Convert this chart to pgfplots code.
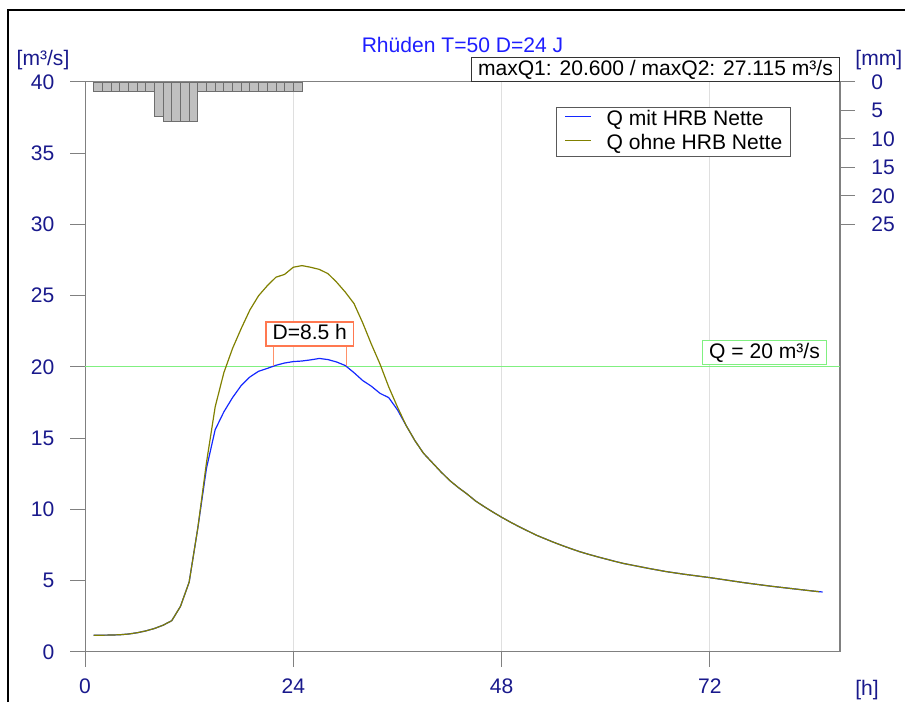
\documentclass[border=0pt]{standalone}
\usepackage{pgfplots}
\pgfplotsset{compat=1.18}
\usepackage{fontspec}
\setmainfont{Liberation Sans}
\definecolor{navyc}{RGB}{25,25,140}
\definecolor{titleblue}{RGB}{30,30,255}
\definecolor{qblue}{RGB}{20,40,255}
\definecolor{qolive}{RGB}{128,128,0}
\definecolor{gline}{RGB}{128,240,128}
\definecolor{dboxc}{RGB}{255,120,80}
\definecolor{dlinec}{RGB}{255,145,105}
\definecolor{barfill}{RGB}{192,192,192}
\definecolor{baredge}{RGB}{110,110,110}
\newcommand{\fs}{\fontsize{15.8}{19}\selectfont}
\tikzset{lbox/.style={fill=white, line width=0.75pt, inner xsep=5pt, inner ysep=1.5pt, text height=11.9pt, text depth=3.1pt}}

\begin{document}
\begin{tikzpicture}[font=\fs]
\useasboundingbox (0,0) rectangle (678.75pt,526.5pt);
\draw[line width=1.5pt] (6pt,0pt) -- (6pt,519pt) -- (678.75pt,519pt);
\begin{axis}[
  at={(63.75pt,37.5pt)}, anchor=south west,
  scale only axis, width=566.25pt, height=427.5pt,
  xmin=0, xmax=87, ymin=0, ymax=40, enlargelimits=false,
  xtick={0,24,48,72}, ytick={0,5,...,40},
  xtick pos=bottom, ytick pos=left,
  tick align=outside, major tick length=11pt,
  tick style={gray, line width=0.75pt},
  axis line style={gray, line width=0.75pt},
  xmajorgrids, grid style={gray!25, line width=0.75pt},
  ticklabel style={font=\fs, text=navyc},
  yticklabel style={xshift=-8.5pt},
  xticklabel style={yshift=-5.5pt},
  /pgf/number format/assume math mode=true,
  clip mode=individual,
  legend style={at={(0.6238,0.9561)}, anchor=north west, draw=black!65, line width=0.75pt,
    inner xsep=6pt, inner ysep=0.5pt, font=\fs, cells={anchor=west},
    nodes={inner sep=0pt, text height=13pt, text depth=5pt}, column sep=11.25pt, row sep=0pt},
  legend image code/.code={\draw[#1] (0pt,2.5pt) -- (19.5pt,2.5pt);},
]
\addplot[gline, line width=0.75pt, forget plot] coordinates {(0,20) (87,20)};
\addplot[qblue, line width=0.9pt] table {
x y
1 1.18
2 1.18
3 1.19
4 1.21
5 1.26
6 1.35
7 1.48
8 1.65
9 1.88
10 2.2
11 3.2
12 4.9
13 8.7
14 12.9
15 15.6
16 16.85
17 17.85
18 18.7
19 19.3
20 19.7
21 19.9
22 20.12
23 20.28
24 20.38
25 20.42
26 20.5
27 20.6
28 20.52
29 20.35
30 20.1
31 19.6
32 19.05
33 18.65
34 18.15
35 17.85
36 17.0
37 15.9
38 14.85
39 13.95
40 13.3
41 12.65
42 12.05
43 11.55
44 11.1
45 10.6
46 10.2
47 9.82
48 9.46
49 9.12
50 8.8
51 8.5
52 8.2
53 7.95
54 7.7
55 7.47
56 7.25
57 7.04
58 6.86
59 6.69
60 6.53
61 6.37
62 6.22
63 6.1
64 5.98
65 5.86
66 5.75
67 5.64
68 5.55
69 5.46
70 5.38
71 5.3
72 5.22
73 5.13
74 5.04
75 4.95
76 4.86
77 4.78
78 4.7
79 4.62
80 4.55
81 4.48
82 4.41
83 4.34
84 4.27
85 4.21
};
\addlegendentry{Q mit HRB Nette}
\addplot[qolive, line width=0.9pt] table {
x y
1 1.18
2 1.18
3 1.19
4 1.21
5 1.26
6 1.35
7 1.48
8 1.65
9 1.88
10 2.2
11 3.2
12 4.9
13 8.7
14 13.3
15 17.2
16 19.6
17 21.3
18 22.7
19 24.0
20 25.0
21 25.7
22 26.3
23 26.5
24 27.0
25 27.115
26 27.0
27 26.85
28 26.55
29 25.95
30 25.25
31 24.45
32 23.1
33 21.6
34 20.2
35 18.6
36 17.2
37 15.9
38 14.85
39 13.95
40 13.3
41 12.65
42 12.05
43 11.55
44 11.1
45 10.6
46 10.2
47 9.82
48 9.46
49 9.12
50 8.8
51 8.5
52 8.2
53 7.95
54 7.7
55 7.47
56 7.25
57 7.04
58 6.86
59 6.69
60 6.53
61 6.37
62 6.22
63 6.1
64 5.98
65 5.86
66 5.75
67 5.64
68 5.55
69 5.46
70 5.38
71 5.3
72 5.22
73 5.13
74 5.04
75 4.95
76 4.86
77 4.78
78 4.7
79 4.62
80 4.55
81 4.48
82 4.41
83 4.34
84 4.27
84.6 4.23
};
\addlegendentry{Q ohne HRB Nette}
\addplot[color=dlinec, line width=0.9pt, forget plot] coordinates {(21.7,20.07) (21.7,21.45)};
\addplot[color=dlinec, line width=0.9pt, forget plot] coordinates {(30.15,20.07) (30.15,21.45)};
\node[lbox, draw=dboxc, line width=0.9pt, text=black] at (axis cs:25.9,22.32) {D=8.5 h};
\node[lbox, draw=gline, anchor=south east] at (axis cs:85.5,20.15) {Q = 20 m³/s};
\node[lbox, draw=black!80, anchor=south east] at (rel axis cs:1,1) {maxQ1: 20.600 / maxQ2: 27.115 m³/s};
\node[anchor=base, text=titleblue] at (rel axis cs:0.5,1.0516) {Rhüden T=50 D=24 J};
\node[anchor=base, text=navyc] at (rel axis cs:-0.0556,1.0288) {[m³/s]};
\node[anchor=base, text=navyc] at (rel axis cs:1.0358,-0.0763) {[h]};
\node[anchor=base, text=navyc] at (rel axis cs:1.0514,1.0288) {[mm]};
\end{axis}
\begin{axis}[
  at={(63.75pt,37.5pt)}, anchor=south west,
  scale only axis, width=566.25pt, height=427.5pt,
  xmin=0, xmax=87, ymin=0, ymax=100, enlargelimits=false,
  y dir=reverse,
  axis y line*=right, axis x line=none,
  ytick={0,5,...,25},
  tick align=outside, major tick length=11pt,
  tick style={gray, line width=0.75pt},
  axis line style={gray, line width=0.75pt},
  ticklabel style={font=\fs, text=navyc},
  yticklabel style={xshift=9pt},
  /pgf/number format/assume math mode=true,
]
\addplot[ybar interval, fill=barfill, draw=baredge, line width=0.6pt] coordinates {
(1,1.7) (2,1.7) (3,1.7) (4,1.7) (5,1.7) (6,1.7) (7,1.7) (8,6.0) (9,7.0) (10,7.0) (11,7.0) (12,7.0)
(13,1.7) (14,1.7) (15,1.7) (16,1.7) (17,1.7) (18,1.7) (19,1.7) (20,1.7) (21,1.7) (22,1.7) (23,1.7) (24,1.7) (25,1.7)};
\end{axis}
\end{tikzpicture}
\end{document}
